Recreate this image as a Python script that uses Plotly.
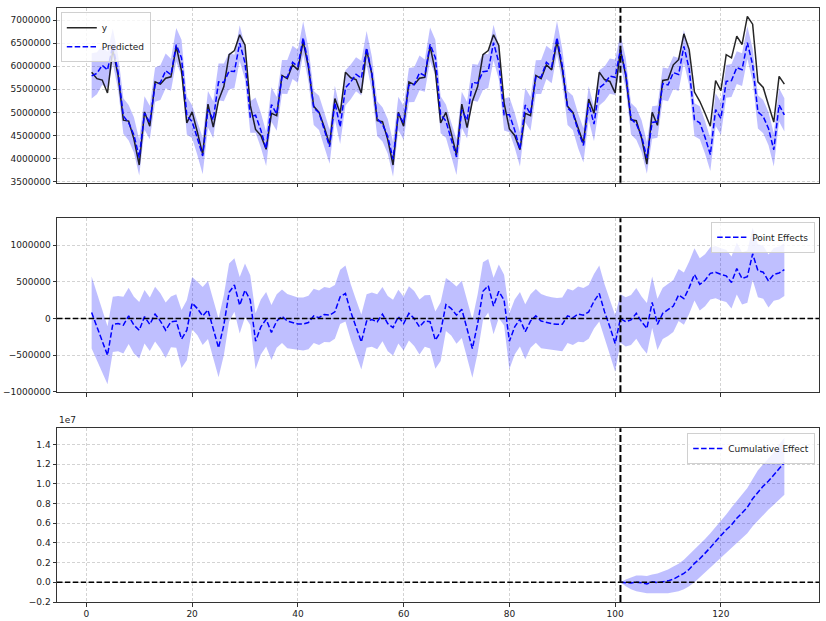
import numpy as np
import plotly.graph_objects as go
from plotly.subplots import make_subplots

# ---------------- data ----------------
x_index = list(range(1, 133))
intervention = 101

# observed series (millions)
y_obs_m = [
    5.87, 5.73, 5.70, 5.42, 6.36, 5.80, 4.83, 4.81, 4.42, 3.86, 5.01, 4.70,
    5.66, 5.61, 5.74, 5.77, 6.43, 5.90, 4.77, 5.01, 4.57, 4.09, 5.18, 4.68,
    5.26, 5.56, 6.25, 6.34, 6.68, 6.46, 5.15, 4.63, 4.50, 4.20, 4.98, 4.93,
    5.80, 5.73, 6.03, 5.92, 6.54, 5.98, 5.13, 5.00, 4.68, 4.30, 5.30, 4.98,
    5.87, 5.75, 5.71, 5.42, 6.36, 5.82, 4.82, 4.80, 4.41, 3.86, 5.00, 4.70,
    5.66, 5.60, 5.74, 5.76, 6.43, 5.89, 4.77, 5.00, 4.55, 4.08, 5.18, 4.67,
    5.24, 5.56, 6.25, 6.34, 6.68, 6.45, 5.20, 4.64, 4.50, 4.19, 4.98, 4.93,
    5.80, 5.73, 6.03, 5.92, 6.54, 5.93, 5.13, 5.00, 4.66, 4.33, 5.29, 4.98,
    5.87, 5.71, 5.67, 5.42,
    6.36, 5.80, 4.84, 4.82, 4.44, 3.88, 5.00, 4.72, 5.69, 5.71, 6.03, 6.14,
    6.70, 6.36, 5.44, 5.24, 4.98, 4.70, 5.69, 5.47, 6.25, 6.18, 6.65, 6.47,
    7.08, 6.91, 5.66, 5.54, 5.16, 4.79, 5.78, 5.61,
]

# point effects y - predicted (thousands)
point_effect_k = [
    80, -115, -320, -500, -80, -70, -90, 35, -90, -160, 25, -80,
    60, -35, -160, -45, -35, -280, -160, 210, 135, 35, 115, -160,
    -400, -90, 355, 455, 180, 385, 250, -310, -115, -10, -190, -35,
    30, -35, -55, -75, -75, -55, 35, 10, 55, 45, 90, 295,
    340, 90, -115, -320, -35, -15, -45, 60, -70, -125, 25, -70,
    70, 0, -115, -35, -45, -295, -180, 190, 135, 45, 125, -160,
    -410, -70, 370, 445, 170, 370, 250, -310, -115, -10, -180, -35,
    35, -35, -55, -70, -80, -80, 35, 10, 60, 45, 90, 235,
    340, 90, -115, -340,
    0, -45, -20, 70, -45, -135, 220, -80, 70, 115, 170, 320,
    270, 420, 600, 465, 520, 615, 630, 600, 580, 490, 680, 545,
    570, 880, 650, 630, 510, 600, 620, 665,
]

# half width of the 95% interval (thousands)
ci_half_k = [
    490, 455, 420, 395, 377, 377, 386, 382, 386, 386, 364, 364,
    373, 377, 377, 345, 364, 395, 409, 355, 364, 395, 395, 400,
    400, 410, 395, 364, 386, 364, 340, 380, 375, 370, 375, 365,
    365, 370, 360, 360, 360, 365, 370, 370, 375, 370, 365, 370,
    380, 375, 370, 375, 365, 370, 375, 370, 375, 380, 365, 365,
    370, 375, 375, 350, 365, 390, 400, 360, 365, 390, 390, 395,
    395, 400, 395, 365, 385, 365, 345, 380, 375, 370, 375, 365,
    365, 370, 360, 360, 360, 365, 370, 370, 375, 370, 365, 370,
    380, 375, 380, 385,
    330, 335, 340, 345, 345, 345, 350, 350, 350, 355, 355, 355,
    355, 355, 355, 355, 355, 355, 355, 355, 355, 355, 355, 355,
    355, 355, 360, 360, 360, 360, 360, 360,
]

# cumulative effect interval, post period 101..132 (units of 1e7)
cum_lower_e7 = [
    0.00, -0.04, -0.07, -0.09, -0.10, -0.11, -0.11, -0.11, -0.11, -0.11,
    -0.10, -0.09, -0.07, -0.04, 0.00, 0.05, 0.10, 0.15, 0.20, 0.25,
    0.30, 0.36, 0.41, 0.45, 0.50, 0.57, 0.63, 0.69, 0.74, 0.79, 0.84, 0.89,
]
cum_upper_e7 = [
    0.00, 0.03, 0.05, 0.07, 0.07, 0.065, 0.08, 0.09, 0.11, 0.13,
    0.16, 0.19, 0.23, 0.28, 0.33, 0.38, 0.44, 0.50, 0.56, 0.62,
    0.69, 0.76, 0.83, 0.89, 0.96, 1.05, 1.14, 1.20, 1.26, 1.32, 1.40, 1.47,
]

y1_ticks = [3500000, 4000000, 4500000, 5000000, 5500000, 6000000, 6500000, 7000000]
y2_ticks = [-1000000, -500000, 0, 500000, 1000000]
y3_ticks_e7 = [-0.2, 0.0, 0.2, 0.4, 0.6, 0.8, 1.0, 1.2, 1.4]
x_ticks = [0, 20, 40, 60, 80, 100, 120]

# ---------------- derived series ----------------
x = np.array(x_index)
y_obs = np.array(y_obs_m) * 1e6
eff = np.array(point_effect_k) * 1e3
half = np.array(ci_half_k) * 1e3
pred = y_obs - eff
pred_lo, pred_hi = pred - half, pred + half
eff_lo, eff_hi = eff - half, eff + half
post = x >= intervention
x_post = x[post]
cum = np.cumsum(eff[post])
cum_lo = np.array(cum_lower_e7) * 1e7
cum_hi = np.array(cum_upper_e7) * 1e7

BAND = "rgba(0,0,255,0.25)"
BLUE = "rgb(0,0,255)"
DASH = "5.5px,2.4px"
FONT = "DejaVu Sans"
FS = 9

fig = make_subplots(rows=3, cols=1, shared_xaxes=True)

# panel 1
fig.add_trace(go.Scatter(x=x, y=pred_lo, mode="lines", line=dict(width=0),
                         showlegend=False, hoverinfo="skip"), row=1, col=1)
fig.add_trace(go.Scatter(x=x, y=pred_hi, mode="lines", line=dict(width=0),
                         fill="tonexty", fillcolor=BAND, showlegend=False,
                         hoverinfo="skip"), row=1, col=1)
fig.add_trace(go.Scatter(x=x, y=y_obs, mode="lines", name="y",
                         line=dict(color="rgba(0,0,0,0.85)", width=1.5),
                         legend="legend"), row=1, col=1)
fig.add_trace(go.Scatter(x=x, y=pred, mode="lines", name="Predicted",
                         line=dict(color=BLUE, width=1.5, dash=DASH),
                         legend="legend"), row=1, col=1)

# panel 2
fig.add_trace(go.Scatter(x=x, y=eff_lo, mode="lines", line=dict(width=0),
                         showlegend=False, hoverinfo="skip"), row=2, col=1)
fig.add_trace(go.Scatter(x=x, y=eff_hi, mode="lines", line=dict(width=0),
                         fill="tonexty", fillcolor=BAND, showlegend=False,
                         hoverinfo="skip"), row=2, col=1)
fig.add_trace(go.Scatter(x=x, y=eff, mode="lines", name="Point Effects",
                         line=dict(color=BLUE, width=1.5, dash=DASH),
                         legend="legend2"), row=2, col=1)

# panel 3
fig.add_trace(go.Scatter(x=x_post, y=cum_lo, mode="lines", line=dict(width=0),
                         showlegend=False, hoverinfo="skip"), row=3, col=1)
fig.add_trace(go.Scatter(x=x_post, y=cum_hi, mode="lines", line=dict(width=0),
                         fill="tonexty", fillcolor=BAND, showlegend=False,
                         hoverinfo="skip"), row=3, col=1)
fig.add_trace(go.Scatter(x=x_post, y=cum, mode="lines", name="Cumulative Effect",
                         line=dict(color=BLUE, width=1.5, dash=DASH),
                         legend="legend3"), row=3, col=1)

axis_common = dict(showgrid=True, gridcolor="#d3d3d3", gridwidth=0.8, griddash="3px,2px",
                   showline=True, linecolor="#333333", linewidth=1, mirror=True,
                   ticks="outside", ticklen=3.5, tickwidth=1, tickcolor="#333333",
                   zeroline=False, automargin=False,
                   tickfont=dict(family=FONT, size=FS, color="#222222"))

for i in (1, 2, 3):
    fig.update_xaxes(range=[-5.55, 138.55], tickvals=x_ticks,
                     ticktext=[str(v) for v in x_ticks],
                     showticklabels=(i == 3), row=i, col=1, **axis_common)

fig.update_yaxes(range=[3478000, 7260000], tickvals=y1_ticks,
                 ticktext=[str(v) for v in y1_ticks], row=1, col=1, **axis_common)
fig.update_yaxes(range=[-1005000, 1364000], tickvals=y2_ticks,
                 ticktext=[str(v).replace("-", "\u2212") for v in y2_ticks],
                 row=2, col=1, **axis_common)
fig.update_yaxes(range=[-2.0e6, 1.566e7], tickvals=[v * 1e7 for v in y3_ticks_e7],
                 ticktext=[f"{v:.1f}".replace("-", "\u2212") for v in y3_ticks_e7],
                 row=3, col=1, **axis_common)

fig.update_layout(
    yaxis=dict(domain=[0.706, 1.0]),
    yaxis2=dict(domain=[0.353, 0.646]),
    yaxis3=dict(domain=[0.0, 0.2924]),
)

shapes = []
for xr, yr in (("x", "y"), ("x2", "y2"), ("x3", "y3")):
    shapes.append(dict(type="line", xref=xr, yref=f"{yr} domain",
                       x0=intervention, x1=intervention, y0=0, y1=1,
                       line=dict(color="black", width=2, dash="7px,3px")))
for xr, yr in (("x2", "y2"), ("x3", "y3")):
    shapes.append(dict(type="line", xref=f"{xr} domain", yref=yr,
                       x0=0, x1=1, y0=0, y1=0,
                       line=dict(color="black", width=1.5, dash=DASH)))

legend_style = dict(bgcolor="rgba(255,255,255,0.8)", bordercolor="#d0d0d0",
                    borderwidth=1, font=dict(family=FONT, size=FS, color="#222222"),
                    tracegroupgap=0, traceorder="normal")

fig.update_layout(
    width=826, height=621,
    margin=dict(l=57, r=7, t=8, b=19),
    paper_bgcolor="white", plot_bgcolor="white",
    font=dict(family=FONT, size=FS, color="#222222"),
    shapes=shapes,
    legend=dict(x=0.005, y=0.993, xanchor="left", yanchor="top", **legend_style),
    legend2=dict(x=0.995, y=0.64, xanchor="right", yanchor="top", **legend_style),
    legend3=dict(x=0.995, y=0.2845, xanchor="right", yanchor="top", **legend_style),
    annotations=[dict(text="1e7", xref="paper", yref="paper", x=0.0, y=0.2924,
                      xanchor="left", yanchor="bottom", showarrow=False, yshift=1,
                      font=dict(family=FONT, size=FS, color="#222222"))],
)

fig.write_html("out.html", config={"displayModeBar": False},
               post_script="document.body.style.margin='0px';")
